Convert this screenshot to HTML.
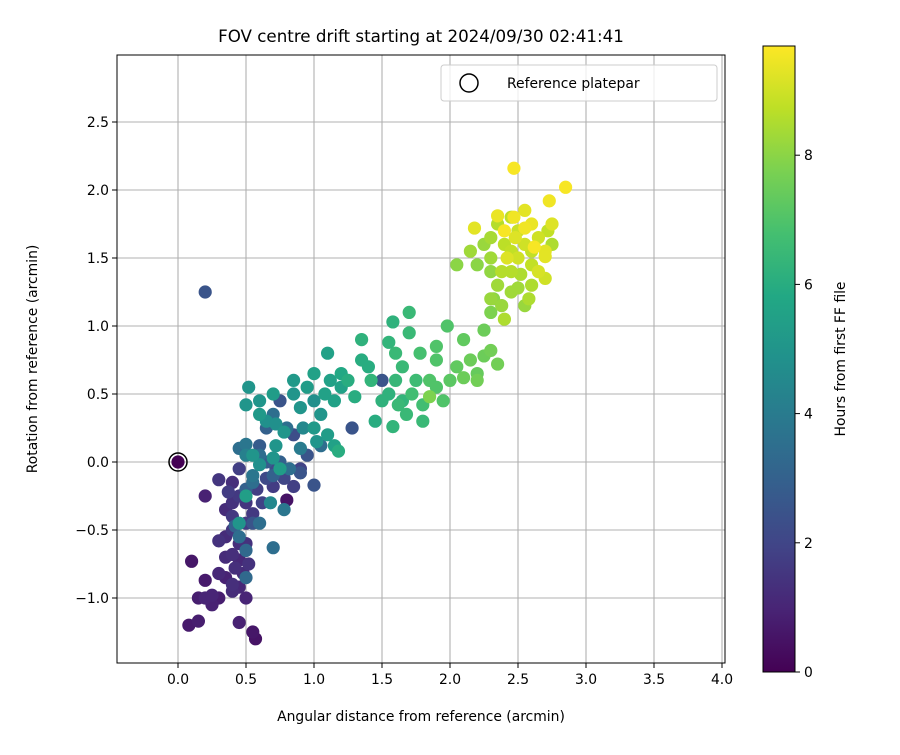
<!DOCTYPE html>
<html><head><meta charset="utf-8"><style>
body{margin:0;background:#fff}
svg text{font-family:"DejaVu Sans","Liberation Sans",sans-serif;fill:#000}
</style></head><body>
<svg id="chart" width="900" height="750" xmlns="http://www.w3.org/2000/svg">
<defs><linearGradient id="vir" x1="0" y1="1" x2="0" y2="0">
<stop offset="0" stop-color="#440154"/><stop offset="0.1" stop-color="#482475"/><stop offset="0.2" stop-color="#414487"/><stop offset="0.3" stop-color="#355f8d"/><stop offset="0.4" stop-color="#2a788e"/><stop offset="0.5" stop-color="#21918c"/><stop offset="0.6" stop-color="#22a884"/><stop offset="0.7" stop-color="#44bf70"/><stop offset="0.8" stop-color="#7ad151"/><stop offset="0.9" stop-color="#bddf26"/><stop offset="1" stop-color="#fde725"/>
</linearGradient></defs>
<g id="grid"></g>
<g id="pts"></g>
<g id="axes"></g>
<text x="421" y="42" text-anchor="middle" font-size="16.7">FOV centre drift starting at 2024/09/30 02:41:41</text>
<text x="421" y="721" text-anchor="middle" font-size="13.9">Angular distance from reference (arcmin)</text>
<text transform="translate(37,359) rotate(-90)" text-anchor="middle" font-size="13.9">Rotation from reference (arcmin)</text>
<g>
<rect x="441" y="65" width="276" height="36" rx="3" fill="#fff" fill-opacity="0.8" stroke="#ccc"/>
<circle cx="469" cy="83" r="9" fill="none" stroke="#000" stroke-width="1.5"/>
<text x="507" y="88" font-size="13.9">Reference platepar</text>
</g>
<g id="cbar">
<rect x="763" y="46" width="32" height="626" fill="url(#vir)" stroke="#000" stroke-width="1"/>
<text transform="translate(845,359) rotate(-90)" text-anchor="middle" font-size="13.9">Hours from first FF file</text>
</g>
</svg>
<script>
const xs=[0.1,0.15,0.2,0.25,0.2,0.3,0.35,0.25,0.3,0.4,0.45,0.4,0.5,0.35,0.4,0.45,0.3,0.35,0.4,0.45,0.5,0.35,0.4,0.45,0.5,0.2,0.3,0.4,0.5,0.55,0.45,0.08,0.15,0.45,0.55,0.57,0.4,0.37,0.42,0.48,0.52,0.58,0.62,0.7,0.8,0.85,0.78,0.9,0.72,0.65,
0.2,0.5,0.45,0.5,0.55,0.6,0.7,0.78,0.42,0.5,0.55,0.45,0.5,0.6,0.65,0.7,0.75,0.82,0.9,1.0,0.95,0.85,0.8,0.7,0.75,0.65,0.9,1.05,1.28,1.5,0.6,0.55,0.5,0.68,
0.5,0.52,0.6,0.6,0.65,0.7,0.72,0.78,0.85,0.85,0.9,0.95,1.0,1.0,1.05,1.0,1.02,1.08,1.1,1.12,1.15,1.2,1.1,1.15,1.18,0.92,0.7,0.75,0.6,0.5,0.45,0.72,0.55,
1.2,1.25,1.3,1.35,1.35,1.4,1.45,1.55,1.58,1.6,1.55,1.58,1.6,1.65,1.7,1.7,1.72,1.65,1.75,1.78,1.8,1.85,1.9,1.9,1.95,1.9,1.98,2.0,2.05,2.1,2.1,2.15,2.2,2.2,1.85,2.25,2.25,2.3,2.35,2.3,1.5,1.42,1.62,1.8,1.68,
2.05,2.2,2.25,2.3,2.3,2.35,2.32,2.38,2.4,2.45,2.5,2.55,2.58,2.3,2.35,2.4,2.45,2.5,2.55,2.6,2.65,2.7,2.72,2.75,2.6,2.52,2.45,2.42,2.48,2.55,2.6,2.47,2.35,2.45,2.65,2.7,2.73,2.85,2.47,2.18,2.3,2.6,2.55,2.62,2.75,2.4,2.5,2.38,2.15,2.7,0];
const ys=[-0.73,-1.0,-1.0,-1.05,-0.87,-0.82,-0.85,-0.98,-1.0,-0.95,-0.92,-0.9,-1.0,-0.7,-0.68,-0.72,-0.58,-0.55,-0.5,-0.6,-0.6,-0.35,-0.3,-0.25,-0.3,-0.25,-0.13,-0.15,-0.45,-0.38,-0.05,-1.2,-1.17,-1.18,-1.25,-1.3,-0.4,-0.22,-0.78,-0.82,-0.75,-0.2,-0.3,-0.18,-0.28,-0.18,-0.12,-0.05,-0.05,-0.12,
1.25,-0.85,-0.55,-0.65,-0.45,-0.45,-0.63,-0.35,-0.47,-0.2,-0.15,0.1,0.13,0.12,0.0,-0.1,0.0,-0.05,-0.08,-0.17,0.05,0.2,0.25,0.35,0.45,0.25,0.1,0.12,0.25,0.6,0.05,-0.1,0.05,-0.3,
0.42,0.55,0.45,0.35,0.3,0.5,0.28,0.22,0.6,0.5,0.4,0.55,0.65,0.45,0.35,0.25,0.15,0.5,0.8,0.6,0.45,0.55,0.2,0.12,0.08,0.25,0.03,-0.05,-0.02,-0.25,-0.45,0.12,0.05,
0.65,0.6,0.48,0.75,0.9,0.7,0.3,0.88,1.03,0.8,0.5,0.26,0.6,0.7,0.95,1.1,0.5,0.45,0.6,0.8,0.42,0.6,0.75,0.55,0.45,0.85,1.0,0.6,0.7,0.9,0.62,0.75,0.65,0.6,0.48,0.78,0.97,0.82,0.72,1.1,0.45,0.6,0.42,0.3,0.35,
1.45,1.45,1.6,1.5,1.4,1.3,1.2,1.15,1.05,1.25,1.28,1.15,1.2,1.65,1.75,1.6,1.55,1.7,1.6,1.55,1.65,1.55,1.7,1.75,1.45,1.38,1.4,1.5,1.65,1.85,1.75,1.8,1.81,1.8,1.4,1.51,1.92,2.02,2.16,1.72,1.2,1.3,1.72,1.58,1.6,1.7,1.5,1.4,1.55,1.35,0];
const hours=[0.6,0.8,1.0,0.9,0.7,1.1,0.9,1.0,0.8,1.2,1.1,1.3,1.0,1.2,1.3,1.1,1.4,1.2,1.5,1.3,1.4,1.2,1.4,1.6,1.5,0.9,1.5,1.3,1.7,1.6,1.8,0.7,0.8,0.9,0.6,0.5,1.6,1.7,1.3,1.2,1.4,1.8,1.9,1.7,0.5,1.8,2.0,1.9,2.2,2.1,
2.5,3.3,3.5,3.3,2.5,3.5,3.5,3.8,3.0,3.0,3.5,3.5,3.8,2.8,2.8,3.0,3.0,3.5,2.5,2.5,2.5,2.3,3.5,3.5,2.5,3.0,4.0,3.5,2.5,2.5,3.5,3.8,4.2,4.5,
5.0,5.0,5.0,5.2,4.8,5.3,4.8,5.0,5.2,5.0,5.0,5.3,5.5,4.8,5.0,5.2,5.0,5.5,5.5,5.5,5.5,5.5,5.3,5.5,6.0,4.5,5.0,5.3,4.8,5.4,5.0,5.0,5.0,
5.8,6.0,6.0,6.0,6.2,6.0,6.0,6.3,6.2,6.5,6.2,6.3,6.4,6.5,6.5,6.5,6.7,6.3,6.6,6.8,6.7,7.0,7.0,7.0,7.0,7.0,7.0,7.2,7.3,7.3,7.5,7.5,7.4,7.6,7.8,7.5,7.5,7.6,7.6,7.8,6.2,6.3,6.5,6.5,6.5,
8.0,8.0,8.2,8.3,8.1,8.3,8.0,8.2,8.5,8.3,8.3,8.2,8.5,8.4,8.6,8.7,8.8,8.9,9.0,8.8,9.0,9.3,8.8,9.2,8.8,8.5,8.6,9.2,9.2,9.3,9.4,9.5,9.4,8.7,9.1,9.3,9.5,9.6,9.6,9.3,8.2,8.5,9.5,9.6,8.5,9.6,9.0,8.6,8.3,9.0,0];
const xTicks=[0,0.5,1,1.5,2,2.5,3,3.5,4];
const yTicks=[-1,-0.5,0,0.5,1,1.5,2,2.5];
const cTicks=[0,2,4,6,8];
const NS="http://www.w3.org/2000/svg";
const L=117,R=725,T=55,B=663;
const X=v=>178+v*136, Y=v=>462-v*136, C=h=>672-h*64.6;
const HMAX=9.69;
const stops=["#440154","#482475","#414487","#355f8d","#2a788e","#21918c","#22a884","#44bf70","#7ad151","#bddf26","#fde725"].map(s=>[1,3,5].map(i=>parseInt(s.substr(i,2),16)));
function vir(t){t=Math.max(0,Math.min(1,t))*10;const i=Math.min(9,Math.floor(t)),f=t-i;const a=stops[i],b=stops[i+1];return "rgb("+a.map((v,k)=>Math.round(v+(b[k]-v)*f)).join(",")+")";}
function mk(tag,at,parent){const e=document.createElementNS(NS,tag);for(const k in at)e.setAttribute(k,at[k]);parent.appendChild(e);return e;}
const grid=document.getElementById('grid'),axes=document.getElementById('axes'),pts=document.getElementById('pts'),cbar=document.getElementById('cbar');
xTicks.forEach(v=>{const x=X(v);
const g=mk('line',{x1:x,x2:x,y1:T,y2:B,stroke:'#b0b0b0','stroke-width':1.1},grid);


mk('line',{x1:x,x2:x,y1:B,y2:B+5,stroke:'#000'},axes);
const t=mk('text',{x:x,y:B+21,'text-anchor':'middle','font-size':13.9},axes);t.textContent=v.toFixed(1);

});
yTicks.forEach(v=>{const y=Y(v);
const g=mk('line',{x1:L,x2:R,y1:y,y2:y,stroke:'#b0b0b0','stroke-width':1.1},grid);


mk('line',{x1:L-5,x2:L,y1:y,y2:y,stroke:'#000'},axes);
const t=mk('text',{x:L-8,y:y+5,'text-anchor':'end','font-size':13.9},axes);t.textContent=(v<0?"\u2212":"")+Math.abs(v).toFixed(1);

});
mk('rect',{x:L,y:T,width:R-L,height:B-T,fill:'none',stroke:'#000','stroke-width':1},axes);
const idx=hours.map((h,i)=>i).sort((a,b)=>hours[a]-hours[b]);
idx.forEach(i=>{const c=mk('circle',{cx:X(xs[i]),cy:Y(ys[i]),r:6.6,fill:vir(hours[i]/HMAX)},pts);

});
const ref=mk('circle',{cx:X(0),cy:Y(0),r:9,fill:'none',stroke:'#000','stroke-width':1.5},pts);


cTicks.forEach(h=>{const y=C(h);
mk('line',{x1:795,x2:800,y1:y,y2:y,stroke:'#000'},cbar);
const t=mk('text',{x:804,y:y+5,'font-size':13.9},cbar);t.textContent=h;

});
</script>
</body></html>
